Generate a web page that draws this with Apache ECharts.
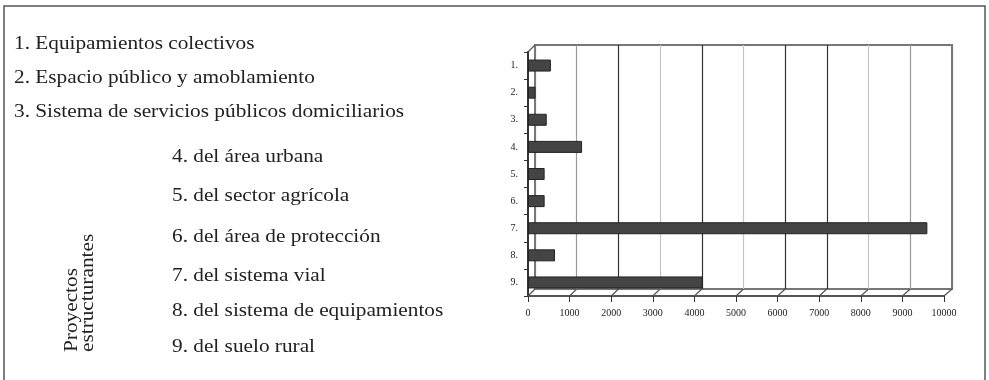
<!DOCTYPE html>
<html>
<head>
<meta charset="utf-8">
<script src="https://cdn.jsdelivr.net/npm/echarts@6/dist/echarts.min.js"></script>
<style>
  html, body { margin: 0; padding: 0; background: #fff; }
  #main { width: 989px; height: 380px; }
</style>
</head>
<body>
<div id="main"></div>
<script>
// categorias del eje y y valores
var categories = ['1.', '2.', '3.', '4.', '5.', '6.', '7.', '8.', '9.'];
var values = [550, 180, 450, 1300, 400, 400, 9600, 650, 4200];
var xTicks = [0, 1000, 2000, 3000, 4000, 5000, 6000, 7000, 8000, 9000, 10000];

// textos de la leyenda de la izquierda
var topItems = [
  '1. Equipamientos colectivos',
  '2. Espacio público y amoblamiento',
  '3. Sistema de servicios públicos domiciliarios'
];
var subItems = [
  '4. del área urbana',
  '5. del sector agrícola',
  '6. del área de protección',
  '7. del sistema vial',
  '8. del sistema de equipamientos',
  '9. del suelo rural'
];
var groupLabel = ['Proyectos', 'estructurantes'];

var serif = '"Liberation Serif", "DejaVu Serif", serif';
var chart = echarts.init(document.getElementById('main'));

// posiciones de cada linea de texto
var topY = [44, 78, 112];
var subY = [157, 196, 237, 276, 311, 347];

var graphics = [];
// marco exterior
graphics.push({
  type: 'rect', shape: { x: 4, y: 6, width: 981, height: 400 },
  style: { fill: null, stroke: '#555', lineWidth: 1.5 }, silent: true
});
topItems.forEach(function (t, i) {
  graphics.push({ type: 'text', x: 14, y: topY[i], scaleX: 1.12,
    style: { text: t, font: '19px ' + serif, fill: '#222', textVerticalAlign: 'middle' } });
});
subItems.forEach(function (t, i) {
  graphics.push({ type: 'text', x: 172, y: subY[i], scaleX: 1.12,
    style: { text: t, font: '19px ' + serif, fill: '#222', textVerticalAlign: 'middle' } });
});
groupLabel.forEach(function (t, i) {
  graphics.push({ type: 'text', x: 72 + i * 16, y: 352, rotation: Math.PI / 2, scaleX: 1.12,
    style: { text: t, font: '19px ' + serif, fill: '#222', textAlign: 'left', textVerticalAlign: 'middle' } });
});

// colores de las lineas verticales de la pared del fondo
var wallColors = ['#777', '#999', '#333', '#c4c4c4', '#333', '#c4c4c4', '#333', '#333', '#c4c4c4', '#999', '#777'];

var option = {
  backgroundColor: '#ffffff',
  animation: false,
  graphic: graphics,
  grid: [
    // pared del fondo
    { left: 535, right: 37, top: 45, bottom: 91, show: true, borderColor: '#777', borderWidth: 2, backgroundColor: '#fff' },
    // plano frontal con barras
    { left: 528, right: 45, top: 52, bottom: 84 }
  ],
  xAxis: [
    {
      gridIndex: 0, type: 'value', min: 0, max: 10000, interval: 1000,
      axisLine: { show: false }, axisTick: { show: false }, axisLabel: { show: false },
      splitLine: { show: true, lineStyle: { color: wallColors, width: 1.2 } }
    },
    {
      gridIndex: 1, type: 'value', min: 0, max: 10000, interval: 1000,
      axisLine: { show: true, lineStyle: { color: '#555', width: 2 } },
      axisTick: { show: true, length: 6, lineStyle: { color: '#333' } },
      splitLine: { show: false },
      axisLabel: {
        fontFamily: serif, fontSize: 10, color: '#222', margin: 12,
        formatter: function (v) { return String(v); }
      }
    }
  ],
  yAxis: [
    { gridIndex: 0, type: 'category', data: categories, show: false },
    {
      gridIndex: 1, type: 'category', data: categories, inverse: true,
      axisLine: { show: true, lineStyle: { color: '#333', width: 2 } },
      axisTick: { show: true, length: 4, lineStyle: { color: '#333' } },
      axisLabel: { fontFamily: serif, fontSize: 10, color: '#222', margin: 10 }
    }
  ],
  series: [{
    type: 'bar', xAxisIndex: 1, yAxisIndex: 1,
    data: values, barWidth: 12,
    itemStyle: { color: '#444', borderColor: '#222', borderWidth: 1 }
  }]
};
chart.setOption(option);

// piso y esquina en perspectiva, desde las escalas de los ejes
var floor = [];
var frontY = chart.convertToPixel({ yAxisIndex: 1 }, categories[categories.length - 1]) + 27.2 / 2;
var backY = 289;
xTicks.forEach(function (v) {
  var xf = chart.convertToPixel({ xAxisIndex: 1 }, v);
  var xb = chart.convertToPixel({ xAxisIndex: 0 }, v);
  floor.push({ type: 'line', shape: { x1: xf, y1: frontY, x2: xb, y2: backY },
    style: { stroke: '#555', lineWidth: 1.2 }, silent: true });
});
var x0f = chart.convertToPixel({ xAxisIndex: 1 }, 0);
var x0b = chart.convertToPixel({ xAxisIndex: 0 }, 0);
floor.push({ type: 'line', shape: { x1: x0f, y1: 52, x2: x0b, y2: 45 },
  style: { stroke: '#555', lineWidth: 1.2 }, silent: true });
chart.setOption({ graphic: graphics.concat(floor) });
</script>
</body>
</html>
